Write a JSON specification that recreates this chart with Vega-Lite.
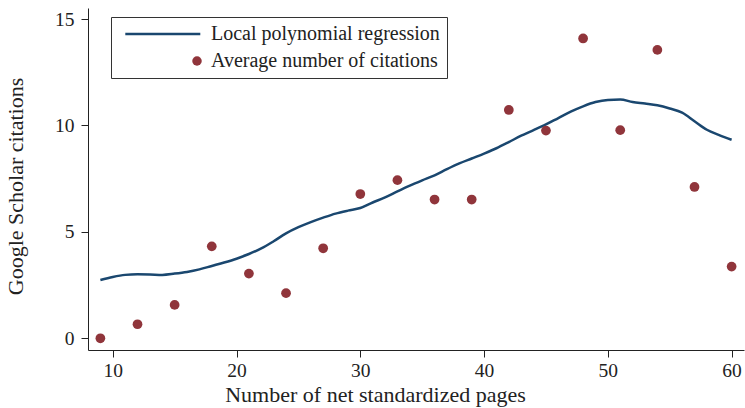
{
  "$schema": "https://vega.github.io/schema/vega-lite/v6.json",
  "width": 656,
  "height": 342,
  "autosize": {"type": "none"},
  "padding": {"left": 88, "top": 8, "right": 1, "bottom": 58},
  "background": "white",
  "config": {
    "view": {"stroke": null},
    "font": "Liberation Serif",
    "axis": {
      "domainColor": "#222",
      "tickColor": "#222",
      "tickSize": 7,
      "grid": false,
      "labelFont": "Liberation Serif",
      "labelFontSize": 19.5,
      "labelColor": "#222",
      "titleFont": "Liberation Serif",
      "titleFontSize": 22,
      "titleFontWeight": "normal",
      "titleColor": "#222"
    }
  },
  "datasets": {
    "points": [
      {"pages": 9, "citations": 0.0, "series": "Average number of citations"},
      {"pages": 12, "citations": 0.66, "series": "Average number of citations"},
      {"pages": 15, "citations": 1.57, "series": "Average number of citations"},
      {"pages": 18, "citations": 4.32, "series": "Average number of citations"},
      {"pages": 21, "citations": 3.04, "series": "Average number of citations"},
      {"pages": 24, "citations": 2.12, "series": "Average number of citations"},
      {"pages": 27, "citations": 4.23, "series": "Average number of citations"},
      {"pages": 30, "citations": 6.78, "series": "Average number of citations"},
      {"pages": 33, "citations": 7.43, "series": "Average number of citations"},
      {"pages": 36, "citations": 6.52, "series": "Average number of citations"},
      {"pages": 39, "citations": 6.52, "series": "Average number of citations"},
      {"pages": 42, "citations": 10.73, "series": "Average number of citations"},
      {"pages": 45, "citations": 9.76, "series": "Average number of citations"},
      {"pages": 48, "citations": 14.09, "series": "Average number of citations"},
      {"pages": 51, "citations": 9.78, "series": "Average number of citations"},
      {"pages": 54, "citations": 13.55, "series": "Average number of citations"},
      {"pages": 57, "citations": 7.11, "series": "Average number of citations"},
      {"pages": 60, "citations": 3.37, "series": "Average number of citations"}
    ],
    "fit": [
      {"pages": 9, "citations": 2.74, "series": "Local polynomial regression"},
      {"pages": 10, "citations": 2.88, "series": "Local polynomial regression"},
      {"pages": 11, "citations": 2.98, "series": "Local polynomial regression"},
      {"pages": 12, "citations": 3.01, "series": "Local polynomial regression"},
      {"pages": 13, "citations": 3.0, "series": "Local polynomial regression"},
      {"pages": 14, "citations": 2.98, "series": "Local polynomial regression"},
      {"pages": 15, "citations": 3.04, "series": "Local polynomial regression"},
      {"pages": 16, "citations": 3.12, "series": "Local polynomial regression"},
      {"pages": 17, "citations": 3.24, "series": "Local polynomial regression"},
      {"pages": 18, "citations": 3.4, "series": "Local polynomial regression"},
      {"pages": 19, "citations": 3.56, "series": "Local polynomial regression"},
      {"pages": 20, "citations": 3.74, "series": "Local polynomial regression"},
      {"pages": 21, "citations": 3.96, "series": "Local polynomial regression"},
      {"pages": 22, "citations": 4.22, "series": "Local polynomial regression"},
      {"pages": 23, "citations": 4.56, "series": "Local polynomial regression"},
      {"pages": 24, "citations": 4.93, "series": "Local polynomial regression"},
      {"pages": 25, "citations": 5.22, "series": "Local polynomial regression"},
      {"pages": 26, "citations": 5.46, "series": "Local polynomial regression"},
      {"pages": 27, "citations": 5.67, "series": "Local polynomial regression"},
      {"pages": 28, "citations": 5.86, "series": "Local polynomial regression"},
      {"pages": 29, "citations": 6.0, "series": "Local polynomial regression"},
      {"pages": 30, "citations": 6.12, "series": "Local polynomial regression"},
      {"pages": 31, "citations": 6.38, "series": "Local polynomial regression"},
      {"pages": 32, "citations": 6.62, "series": "Local polynomial regression"},
      {"pages": 33, "citations": 6.9, "series": "Local polynomial regression"},
      {"pages": 34, "citations": 7.17, "series": "Local polynomial regression"},
      {"pages": 35, "citations": 7.42, "series": "Local polynomial regression"},
      {"pages": 36, "citations": 7.66, "series": "Local polynomial regression"},
      {"pages": 37, "citations": 7.95, "series": "Local polynomial regression"},
      {"pages": 38, "citations": 8.22, "series": "Local polynomial regression"},
      {"pages": 39, "citations": 8.45, "series": "Local polynomial regression"},
      {"pages": 40, "citations": 8.68, "series": "Local polynomial regression"},
      {"pages": 41, "citations": 8.93, "series": "Local polynomial regression"},
      {"pages": 42, "citations": 9.22, "series": "Local polynomial regression"},
      {"pages": 43, "citations": 9.52, "series": "Local polynomial regression"},
      {"pages": 44, "citations": 9.78, "series": "Local polynomial regression"},
      {"pages": 45, "citations": 10.05, "series": "Local polynomial regression"},
      {"pages": 46, "citations": 10.35, "series": "Local polynomial regression"},
      {"pages": 47, "citations": 10.65, "series": "Local polynomial regression"},
      {"pages": 48, "citations": 10.9, "series": "Local polynomial regression"},
      {"pages": 49, "citations": 11.1, "series": "Local polynomial regression"},
      {"pages": 50, "citations": 11.2, "series": "Local polynomial regression"},
      {"pages": 51, "citations": 11.22, "series": "Local polynomial regression"},
      {"pages": 52, "citations": 11.1, "series": "Local polynomial regression"},
      {"pages": 53, "citations": 11.03, "series": "Local polynomial regression"},
      {"pages": 54, "citations": 10.95, "series": "Local polynomial regression"},
      {"pages": 55, "citations": 10.8, "series": "Local polynomial regression"},
      {"pages": 56, "citations": 10.6, "series": "Local polynomial regression"},
      {"pages": 57, "citations": 10.2, "series": "Local polynomial regression"},
      {"pages": 58, "citations": 9.8, "series": "Local polynomial regression"},
      {"pages": 59, "citations": 9.55, "series": "Local polynomial regression"},
      {"pages": 60, "citations": 9.33, "series": "Local polynomial regression"}
    ]
  },
  "encoding": {
    "x": {
      "field": "pages",
      "type": "quantitative",
      "scale": {"domain": [8, 61], "nice": false, "zero": false},
      "axis": {
        "title": "Number of net standardized pages",
        "values": [10, 20, 30, 40, 50, 60],
        "labelBaseline": "alphabetic",
        "labelPadding": 19.5,
        "titleX": 287,
        "titleY": 51,
        "titleBaseline": "alphabetic",
        "titleAnchor": null
      }
    },
    "y": {
      "field": "citations",
      "type": "quantitative",
      "scale": {"domain": [-0.55, 15.52], "nice": false, "zero": false},
      "axis": {
        "title": "Google Scholar citations",
        "values": [0, 5, 10, 15],
        "labelPadding": 7,
        "titleX": -66,
        "titleY": 178,
        "titleBaseline": "alphabetic",
        "titleAngle": -90
      }
    },
    "color": {
      "field": "series",
      "type": "nominal",
      "scale": {
        "domain": ["Local polynomial regression", "Average number of citations"],
        "range": ["#1a476f", "#90353b"]
      },
      "legend": {
        "title": null,
        "orient": "none",
        "legendX": 23,
        "legendY": 9,
        "strokeColor": "#333",
        "fillColor": "white",
        "padding": 7,
        "labelFont": "Liberation Serif",
        "labelFontSize": 20,
        "labelColor": "#222",
        "labelLimit": 400,
        "labelOffset": 73,
        "rowPadding": 7,
        "symbolSize": 5625,
        "symbolStrokeWidth": 2.5,
        "encode": {
          "symbols": {
            "update": {
              "shape": {"signal": "datum.value === 'Local polynomial regression' ? 'stroke' : 'circle'"},
              "size": {"signal": "datum.value === 'Local polynomial regression' ? 5625 : 90"},
              "fill": {"signal": "datum.value === 'Local polynomial regression' ? 'transparent' : '#90353b'"},
              "stroke": {"signal": "datum.value === 'Local polynomial regression' ? '#1a476f' : 'transparent'"},
              "strokeWidth": {"signal": "datum.value === 'Local polynomial regression' ? 2.5 : 0"},
              "opacity": {"value": 1},
              "x": {"signal": "datum.value === 'Local polynomial regression' ? 44.8 : 79"}
            }
          }
        }
      }
    }
  },
  "layer": [
    {
      "data": {"name": "fit"},
      "mark": {"type": "line", "strokeWidth": 2.5, "interpolate": "monotone"}
    },
    {
      "data": {"name": "points"},
      "mark": {"type": "circle", "size": 95, "opacity": 1}
    }
  ]
}
